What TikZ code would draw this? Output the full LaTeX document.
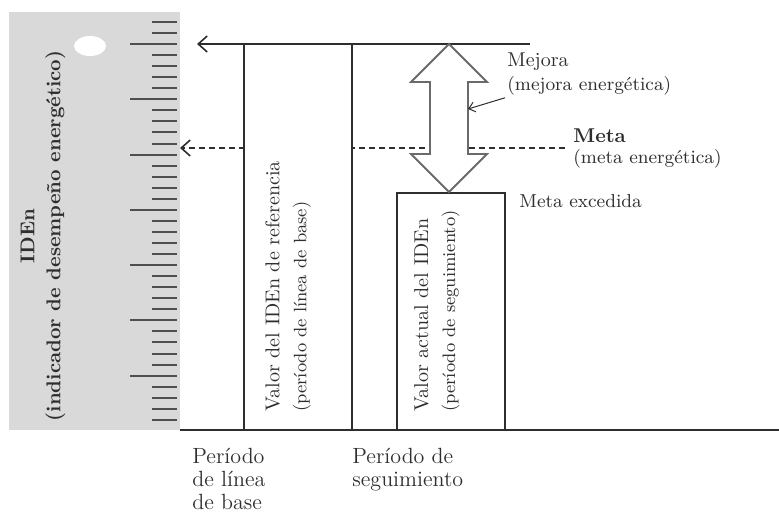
\documentclass[tikz,border=0pt]{standalone}
\usepackage{tikz}
\usetikzlibrary{arrows.meta,positioning}
\definecolor{Band}{HTML}{D9D9D9}
\definecolor{Ink}{HTML}{2E2E2E}
\definecolor{Rule}{HTML}{4F4F4F}
\definecolor{Shade}{HTML}{6A6A6A}

\begin{document}
\begin{tikzpicture}[x=0.5pt,y=-0.5pt,
    bar/.style={draw=Ink,fill=white,line width=0.8pt},
    tick/.style={draw=Rule,line width=1pt},
    level/.style={draw=Ink,line width=0.8pt,-{Straight Barb[length=4.5pt,width=8pt]}},
    goal/.style={level,dash pattern=on 3pt off 2pt},
    pointer/.style={draw=Ink,line width=0.5pt,-{Straight Barb[length=3pt,width=5pt]}},
    tag/.style={inner sep=0pt,anchor=west,text=Ink,font=\fontsize{9.4}{11}\selectfont},
    period/.style={inner sep=0pt,anchor=north west,align=left,text=Ink,
      font=\fontsize{11}{11.5}\selectfont},
    inbar/.style={rotate=90,inner sep=0pt,anchor=west,align=left,text=Ink,font=\fontsize{10}{12}\selectfont}
  ]
  \useasboundingbox (0,0) rectangle (779,518);
  % ruler band
  \fill[Band] (9,12) rectangle (180,430);
  \foreach \i in {0,...,36}{
    \pgfmathtruncatemacro{\r}{mod(\i,5)}
    \ifnum\r=2
      \draw[tick] (130,22+11.05*\i) -- (177,22+11.05*\i);
    \else
      \draw[tick] (152,22+11.05*\i) -- (177,22+11.05*\i);
    \fi
  }
  \fill[white] (90,46) ellipse [x radius=8pt,y radius=5pt];
  \node[rotate=90,align=center,text=Ink,font=\bfseries\fontsize{10}{13}\selectfont] (axislabel) at (43,236)
    {IDEn\\(indicador de desempeño energético)};
  % levels
  \coordinate (topend) at (530,44);
  \coordinate (topaxis) at (197,44);
  \coordinate (metaend) at (565,148);
  \coordinate (metaaxis) at (180,148);
  \draw[level] (topend) -- (topaxis);
  \draw[goal] (metaend) -- (metaaxis);
  % bars
  \draw[bar] (244,430) rectangle (352,44);
  \draw[bar] (397,430) rectangle (505,193);
  \draw[Ink,line width=1pt] (180,430) -- (779,430);
  \node[inbar] (baseval) at (288,412)
    {Valor del IDEn de referencia\\[1.5pt]{\fontsize{9}{11}\selectfont(período de línea de base)}};
  \node[inbar] (actval) at (437,412)
    {Valor actual del IDEn\\[1.5pt]{\fontsize{9}{11}\selectfont(período de seguimiento)}};
  % improvement arrow
  \draw[draw=Shade,fill=white,line width=0.9pt,line join=miter]
    (449,44) -- (487,82) -- (468,82) -- (468,154) -- (487,154) -- (449,192)
    -- (411,154) -- (430,154) -- (430,82) -- (411,82) -- cycle;
  \coordinate (shaft) at (468,109);
  % labels
  \node[tag,font=\fontsize{10}{12}\selectfont] (mejora) at (507,62) {Mejora};
  \node[tag] (mejoradesc) at (507,86) {(mejora energética)};
  \node[tag,font=\bfseries\fontsize{10}{12}\selectfont] (meta) at (573,136) {Meta};
  \node[tag] (metadesc) at (573,159) {(meta energética)};
  \node[tag] (excedida) at (519,201) {Meta excedida};
  \draw[pointer] ([xshift=-1pt,yshift=-1pt]mejoradesc.south west) -- (shaft);
  \node[period] (baseperiod) at (192,448) {Período\\de línea\\de base};
  \node[period] (followperiod) at (352,448) {Período de\\seguimiento};
\end{tikzpicture}
\end{document}
